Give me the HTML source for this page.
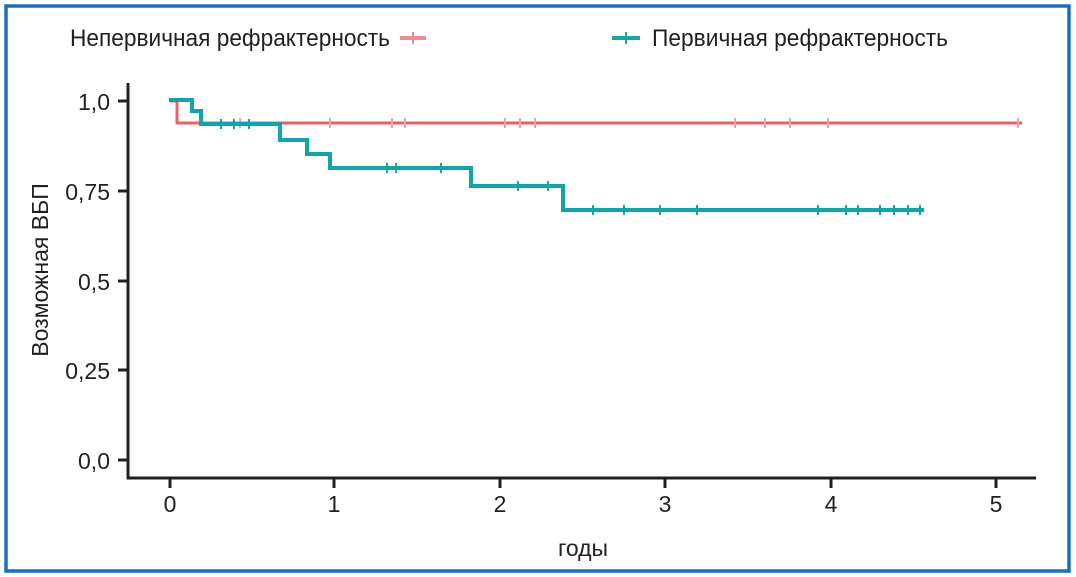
<!DOCTYPE html>
<html><head><meta charset="utf-8"><style>
html,body{margin:0;padding:0;background:#fff}
svg{display:block}
text{font-family:"Liberation Sans Narrow","Liberation Sans",sans-serif;fill:#231f20}
</style></head><body>
<svg width="1076" height="577" viewBox="0 0 1076 577">
<rect x="6" y="6" width="1063" height="565" fill="#fff" stroke="#1a6fba" stroke-width="3.5"/>
<!-- legend -->
<text x="70" y="46" font-size="24" textLength="320" lengthAdjust="spacingAndGlyphs">Непервичная рефрактерность</text>
<line x1="400" y1="38" x2="426" y2="38" stroke="#f08a94" stroke-width="4"/>
<line x1="413" y1="32" x2="413" y2="44" stroke="#f08a94" stroke-width="2"/>
<line x1="612" y1="38" x2="640" y2="38" stroke="#1aa5a5" stroke-width="4"/>
<line x1="626" y1="32" x2="626" y2="44" stroke="#1aa5a5" stroke-width="2"/>
<text x="652" y="46" font-size="24" textLength="296" lengthAdjust="spacingAndGlyphs">Первичная рефрактерность</text>
<!-- axes -->
<path d="M128 83 V478 H1036" fill="none" stroke="#231f20" stroke-width="3"/>
<g stroke="#231f20" stroke-width="3">
<line x1="118" y1="101" x2="128" y2="101"/><line x1="118" y1="191" x2="128" y2="191"/>
<line x1="118" y1="281" x2="128" y2="281"/><line x1="118" y1="370" x2="128" y2="370"/>
<line x1="118" y1="460" x2="128" y2="460"/>
<line x1="170" y1="478" x2="170" y2="488"/><line x1="334" y1="478" x2="334" y2="488"/>
<line x1="500" y1="478" x2="500" y2="488"/><line x1="665" y1="478" x2="665" y2="488"/>
<line x1="831" y1="478" x2="831" y2="488"/><line x1="996" y1="478" x2="996" y2="488"/>
</g>
<g font-size="23" text-anchor="end">
<text x="110" y="110">1,0</text><text x="110" y="200">0,75</text><text x="110" y="290">0,5</text>
<text x="110" y="379">0,25</text><text x="110" y="469">0,0</text>
</g>
<g font-size="23" text-anchor="middle">
<text x="170" y="512">0</text><text x="334" y="512">1</text><text x="500" y="512">2</text>
<text x="665" y="512">3</text><text x="831" y="512">4</text><text x="996" y="512">5</text>
<text x="583" y="556">годы</text>
</g>
<text transform="translate(48 270) rotate(-90)" font-size="23" text-anchor="middle">Возможная ВБП</text>
<!-- red -->
<path d="M170 101 H177 V123 H1022" fill="none" stroke="#e8606c" stroke-width="3"/>
<g stroke="#f0a0a8" stroke-width="2">
<line x1="240" y1="118" x2="240" y2="128"/><line x1="330" y1="118" x2="330" y2="128"/>
<line x1="392" y1="118" x2="392" y2="128"/><line x1="405" y1="118" x2="405" y2="128"/>
<line x1="505" y1="118" x2="505" y2="128"/><line x1="520" y1="118" x2="520" y2="128"/>
<line x1="535" y1="118" x2="535" y2="128"/><line x1="735" y1="118" x2="735" y2="128"/>
<line x1="765" y1="118" x2="765" y2="128"/><line x1="790" y1="118" x2="790" y2="128"/>
<line x1="828" y1="118" x2="828" y2="128"/><line x1="1018" y1="118" x2="1018" y2="128"/>
</g>
<!-- teal -->
<path d="M169 100 H192 V111 H201 V124 H280 V140 H307 V154 H330 V168 H471 V186 H563 V210 H924" fill="none" stroke="#14a3a8" stroke-width="4"/>
<g stroke="#14a3a8" stroke-width="2">
<line x1="221" y1="119" x2="221" y2="129"/><line x1="234" y1="119" x2="234" y2="129"/>
<line x1="249" y1="119" x2="249" y2="129"/><line x1="387" y1="163" x2="387" y2="173"/>
<line x1="396" y1="163" x2="396" y2="173"/><line x1="441" y1="163" x2="441" y2="173"/>
<line x1="518" y1="181" x2="518" y2="191"/><line x1="548" y1="181" x2="548" y2="191"/>
<line x1="593" y1="205" x2="593" y2="215"/><line x1="624" y1="205" x2="624" y2="215"/>
<line x1="660" y1="205" x2="660" y2="215"/><line x1="697" y1="205" x2="697" y2="215"/>
<line x1="818" y1="205" x2="818" y2="215"/><line x1="846" y1="205" x2="846" y2="215"/>
<line x1="858" y1="205" x2="858" y2="215"/><line x1="880" y1="205" x2="880" y2="215"/>
<line x1="894" y1="205" x2="894" y2="215"/><line x1="908" y1="205" x2="908" y2="215"/>
<line x1="920" y1="205" x2="920" y2="215"/>
</g>
</svg>
</body></html>
